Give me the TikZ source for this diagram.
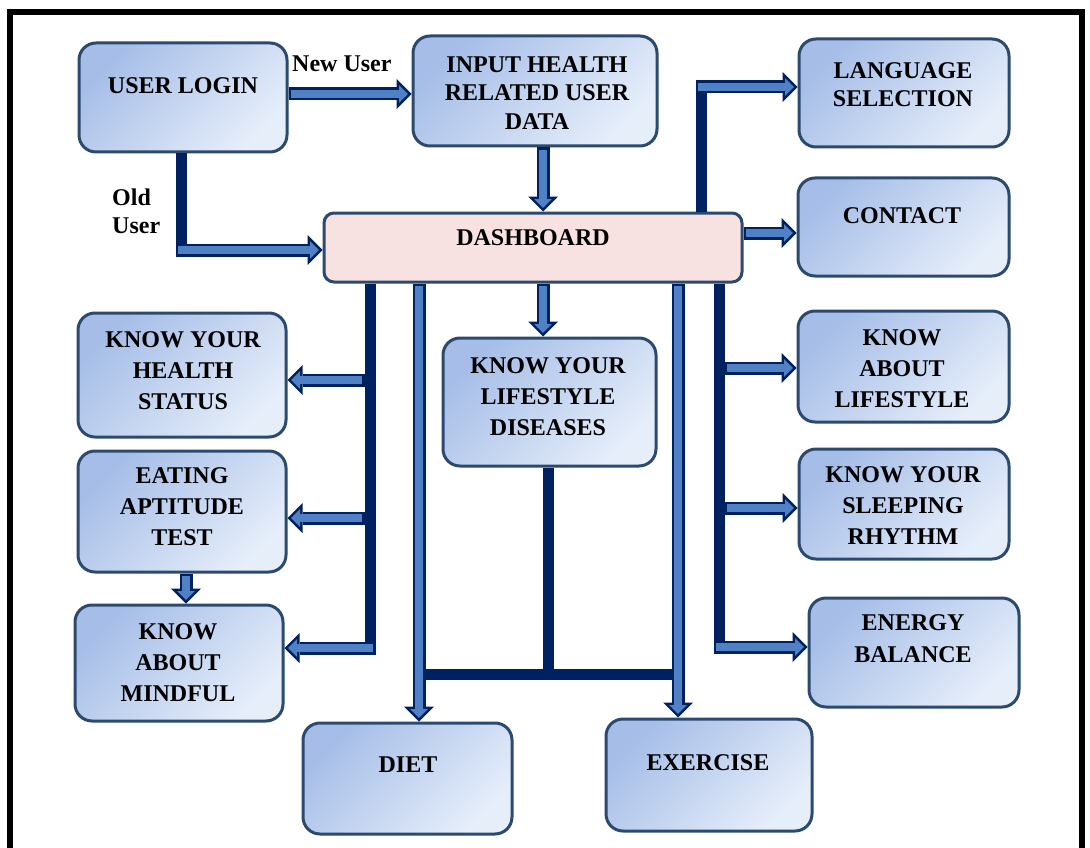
\documentclass[tikz,border=0pt]{standalone}
\usepackage{fontspec}
\setmainfont{Liberation Serif}
\usetikzlibrary{arrows.meta}

\definecolor{boxedge}{HTML}{2C4A6E}
\definecolor{boxtop}{HTML}{A5BDE7}
\definecolor{boxbot}{HTML}{E6EEFA}
\definecolor{dashpink}{HTML}{F7E1E1}
\definecolor{navy}{HTML}{00215F}
\definecolor{arrowblue}{HTML}{4F81C4}

\tikzset{
  box/.style={draw=boxedge, line width=3pt, rounded corners=17pt,
    top color=boxtop, bottom color=boxbot, shading angle=45, inner sep=0pt},
  dashbox/.style={draw=boxedge, line width=3pt, rounded corners=10pt,
    fill=dashpink, inner sep=0pt},
  lbl/.style={font=\bfseries\fontsize{24}{31}\selectfont, align=center,
    inner sep=0pt, anchor=north, text=black},
  lbltight/.style={lbl, font=\bfseries\fontsize{24}{28.5}\selectfont},
  trunk/.style={draw=navy, line width=11pt},
  arrowouter/.style={draw=navy, line width=13pt,
    -{Triangle[width=30pt,length=15pt,line width=0pt]}},
  arrowinner/.style={draw=arrowblue, line width=8pt,
    shorten <=2.5pt, shorten >=3.54pt,
    -{Triangle[width=17.9pt,length=8.96pt,line width=0pt]}},
}
% outlined block arrow: navy outline with a blue core
\newcommand\blockarrow[2]{%
  \draw[arrowouter] #1 -- #2;
  \draw[arrowinner] #1 -- #2;}

\begin{document}
\begin{tikzpicture}[x=1pt,y=-1pt]
\useasboundingbox (0,0) rectangle (1090,848);
\fill[white] (0,0) rectangle (1090,848);

% outer frame
\draw[line width=6pt] (10,848) -- (10,12) -- (1082,12) -- (1082,848);

% boxes
\node[box, minimum width=208pt, minimum height=109pt] (login) at (183,97.5) {};
\node[box, minimum width=244pt, minimum height=110pt] (input) at (535,91) {};
\node[dashbox, minimum width=418pt, minimum height=69pt] (dash) at (533,247.5) {};
\node[box, minimum width=210pt, minimum height=108pt] (lang) at (904,93) {};
\node[box, minimum width=211pt, minimum height=98pt] (contact) at (903.5,227) {};
\node[box, minimum width=208pt, minimum height=124pt] (health) at (182,375) {};
\node[box, minimum width=208pt, minimum height=121pt] (eating) at (182,511.5) {};
\node[box, minimum width=208pt, minimum height=116pt] (mindful) at (179,663) {};
\node[box, minimum width=213pt, minimum height=128pt] (disease) at (549.5,402) {};
\node[box, minimum width=211pt, minimum height=111pt] (klife) at (903.5,366.5) {};
\node[box, minimum width=210pt, minimum height=110pt] (sleep) at (904,504) {};
\node[box, minimum width=210pt, minimum height=109pt] (energy) at (914,652.5) {};
\node[box, minimum width=209pt, minimum height=111pt] (diet) at (407.5,778.5) {};
\node[box, minimum width=206pt, minimum height=112pt] (exercise) at (709,775) {};

% box texts
\node[lbl] (t-login) at (183,77) {USER LOGIN};
\node[lbltight] (t-input) at (537,56) {INPUT HEALTH\\RELATED USER\\DATA};
\node[lbl] (t-dash) at (533,229) {DASHBOARD};
\node[lbltight] (t-lang) at (903,62) {LANGUAGE\\SELECTION};
\node[lbl] (t-contact) at (902,207) {CONTACT};
\node[lbl] (t-health) at (183,331) {KNOW YOUR\\HEALTH\\STATUS};
\node[lbl] (t-eating) at (182,467) {EATING\\APTITUDE\\TEST};
\node[lbl] (t-mindful) at (178,623) {KNOW\\ABOUT\\MINDFUL};
\node[lbl] (t-disease) at (548,357) {KNOW YOUR\\LIFESTYLE\\DISEASES};
\node[lbl] (t-klife) at (902,329) {KNOW\\ABOUT\\LIFESTYLE};
\node[lbl] (t-sleep) at (903,466) {KNOW YOUR\\SLEEPING\\RHYTHM};
\node[lbl, font=\bfseries\fontsize{24}{32}\selectfont] (t-energy) at (913,614) {ENERGY\\BALANCE};
\node[lbl] (t-diet) at (408,757) {DIET};
\node[lbl] (t-exercise) at (708,754) {EXERCISE};

% connector labels
\node[font=\bfseries\fontsize{24}{28}\selectfont, inner sep=0pt, anchor=base west] (newuser) at (292,72) {New User};
\node[font=\bfseries\fontsize{24}{28}\selectfont, inner sep=0pt, anchor=north west, align=left] (olduser) at (112,189) {Old\\User};

% junction and routing points
\coordinate (nu) at (300,94);
\coordinate (id) at (543,180);
\coordinate (ouc) at (181,256.5);
\coordinate (oua) at (175.5,250);
\coordinate (lgc) at (701,80.5);
\coordinate (lga) at (695.5,87);
\coordinate (ct) at (760,233);
\coordinate (ds) at (543,310);
\coordinate (ta) at (370,654.5);
\coordinate (ha) at (364.5,380);
\coordinate (ea) at (364.5,518);
\coordinate (ma) at (375.5,648);
\coordinate (em) at (186,590);
\coordinate (dt) at (419,500);
\coordinate (ex) at (678,500);
\coordinate (dj) at (548,674);
\coordinate (td) at (719,653.5);
\coordinate (la) at (724.5,368);
\coordinate (sa) at (724.5,508);
\coordinate (ga) at (713.5,647);

% navy trunks
\draw[trunk] (login.south -| ouc) -- (ouc);
\draw[trunk] (dash.north -| lgc) -- (lgc);
\draw[trunk] (dash.south -| ta) -- (ta);
\draw[trunk] (dash.south -| td) -- (td);
\draw[trunk] (disease.south -| dj) -- (dj);
\draw[trunk] (dt |- dj) -- (ex |- dj);

% block arrows
\blockarrow{(login.east |- nu)}{(input.west |- nu)}
\blockarrow{(input.south -| id)}{(dash.north -| id)}
\blockarrow{(oua)}{(dash.west |- oua)}
\blockarrow{(lga)}{(lang.west |- lga)}
\blockarrow{(dash.east |- ct)}{(contact.west |- ct)}
\blockarrow{(dash.south -| ds)}{(disease.north -| ds)}
\blockarrow{(ha)}{(health.east |- ha)}
\blockarrow{(ea)}{(eating.east |- ea)}
\blockarrow{(ma)}{(mindful.east |- ma)}
\blockarrow{(eating.south -| em)}{(mindful.north -| em)}
\blockarrow{(dash.south -| dt)}{(diet.north -| dt)}
\blockarrow{(dash.south -| ex)}{(exercise.north -| ex)}
\blockarrow{(la)}{(klife.west |- la)}
\blockarrow{(sa)}{(sleep.west |- sa)}
\blockarrow{(ga)}{(energy.west |- ga)}
\end{tikzpicture}
\end{document}
